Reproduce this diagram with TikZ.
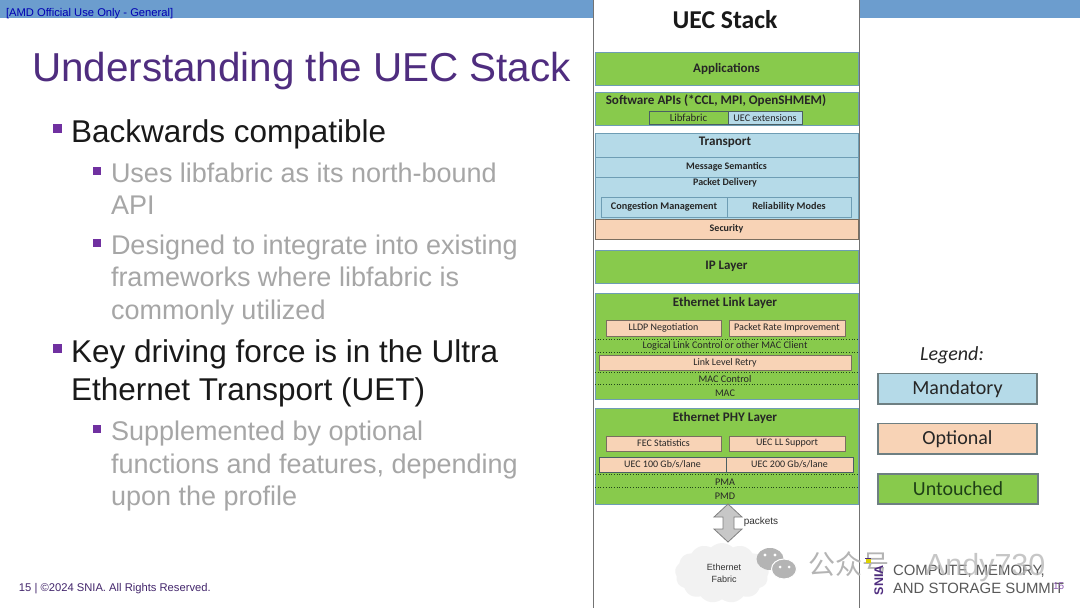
\documentclass[tikz,border=0pt]{standalone}
\usepackage{fontspec}
\setmainfont{Liberation Sans}
\newfontfamily\calib{Carlito}
\newfontfamily\cjkf{Noto Sans CJK SC}
\usetikzlibrary{shapes.geometric,shapes.symbols,shapes.arrows}
\definecolor{band}{HTML}{6C9DCE}
\definecolor{ttl}{HTML}{4F2D7F}
\definecolor{bul}{HTML}{7030A0}
\definecolor{subg}{HTML}{A6A6A6}
\definecolor{grn}{HTML}{88CA4C}
\definecolor{blu}{HTML}{B5DAE8}
\definecolor{pch}{HTML}{F8D3B6}
\definecolor{bdb}{HTML}{6E9DB4}
\definecolor{bdk}{HTML}{4A5F63}
\definecolor{bdp}{HTML}{7A6E60}
\definecolor{dgn}{HTML}{2B5A20}
\definecolor{wm}{HTML}{B4B4B4}
\tikzset{
  x=1pt,y=-1pt,
  layer/.style={draw=bdb,line width=1pt,inner sep=0pt,outer sep=0pt,anchor=north west,text=black!85,font=\calib\bfseries\fontsize{11}{11}\selectfont},
  g/.style={layer,fill=grn},
  b/.style={layer,fill=blu},
  p/.style={layer,fill=pch,draw=bdp},
  gk/.style={g,draw=bdk},
  bk/.style={b,draw=bdk},
  pk/.style={p,draw=bdk},
  lab/.style={inner sep=0pt,outer sep=0pt,anchor=center,yshift=-.8pt,text=black!85,font=\calib\bfseries\fontsize{10}{10}\selectfont},
  big/.style={lab,font=\calib\bfseries\fontsize{13.1}{13.1}\selectfont},
  dots/.style={dotted,line width=.7pt,draw=dgn!80!black},
  tx/.style={inner sep=0pt,outer sep=0pt,anchor=base west},
  h1/.style={tx,text=black!90,font=\fontsize{31.5}{31.5}\selectfont},
  h2/.style={tx,text=subg,font=\fontsize{27}{27}\selectfont},
  sq/.style={fill=bul,draw=none},
  lg/.style={layer,draw=bdk!80,line width=1.2pt,font=\calib\fontsize{20}{20}\selectfont},
}
\newcommand\bx[7]{\node[#2,minimum width={(#5-#3)*1pt},minimum height={(#6-#4)*1pt}] (#1) at (#3,#4) {\raisebox{-.8pt}{#7}};}
\begin{document}
\begin{tikzpicture}
\useasboundingbox (0,0) rectangle (1080,608);
\fill[white] (0,0) rectangle (1080,608);
\fill[band] (0,0) rectangle (1080,18);
\node[tx,text=blue!70!black,font=\fontsize{11.2}{11.2}\selectfont] (amd) at (6,16) {[AMD Official Use Only - General]};
\node[tx,text=ttl,font=\fontsize{40.4}{40.4}\selectfont] (title) at (32,81) {Understanding the UEC Stack};
% left bullets
\fill[sq] (53,124) rectangle +(9,9);
\node[h1] (t1) at (71,142) {Backwards compatible};
\fill[sq] (93,167) rectangle +(8,8);
\node[h2] (t2) at (111,182) {Uses libfabric as its north-bound};
\node[h2] (t3) at (111,214) {API};
\fill[sq] (93,239) rectangle +(8,8);
\node[h2] (t4) at (111,254) {Designed to integrate into existing};
\node[h2] (t5) at (111,286) {frameworks where libfabric is};
\node[h2] (t6) at (111,319) {commonly utilized};
\fill[sq] (53,344) rectangle +(9,9);
\node[h1] (t7) at (71,362) {Key driving force is in the Ultra};
\node[h1] (t8) at (71,400) {Ethernet Transport (UET)};
\fill[sq] (93,425) rectangle +(8,8);
\node[h2] (t9) at (111,440) {Supplemented by optional};
\node[h2] (t10) at (111,473) {functions and features, depending};
\node[h2] (t11) at (111,505) {upon the profile};
\node[tx,text=ttl!85!black,font=\fontsize{11.2}{11.2}\selectfont] (foot) at (19,591) {15 | ©2024 SNIA. All Rights Reserved.};
% panel
\node[draw=black!55,fill=white,line width=1.2pt,inner sep=0pt,anchor=north west,minimum width=266pt,minimum height=612pt] (panel) at (593,-2) {};
\node[anchor=center,inner sep=0pt,text=black!90,font=\calib\bfseries\fontsize{25.7}{25.7}\selectfont] (stack) at (725,20) {UEC Stack};
% layers
\bx{apps}{g}{595}{52}{858}{85}{\fontsize{13}{13}\selectfont Applications}
\bx{api}{g}{595}{92}{858}{125}{}
\node[big] (apit) at (716,99.5) {Software APIs (*CCL, MPI, OpenSHMEM)};
\bx{libf}{gk}{649}{111}{728}{124.5}{\fontsize{10.8}{10.8}\selectfont\mdseries Libfabric}
\bx{uecx}{bk}{728}{111}{802}{124.5}{\fontsize{10.2}{10.2}\selectfont\mdseries UEC extensions}
\bx{trans}{b}{595}{133}{858}{157}{}
\node[big] (transt) at (725,141) {Transport};
\bx{msg}{b}{595}{157}{858}{177}{\fontsize{10}{10}\selectfont Message Semantics}
\bx{pkt}{b}{595}{177}{858}{219}{}
\node[lab] (pktt) at (725,182) {Packet Delivery};
\bx{cong}{b}{601}{197}{727}{217}{\fontsize{10.2}{10.2}\selectfont Congestion Management}
\bx{rel}{b}{727}{197}{851}{217}{\fontsize{10.2}{10.2}\selectfont Reliability Modes}
\bx{sec}{p}{595}{219}{858}{239}{\fontsize{10}{10}\selectfont Security}
\bx{ip}{g}{595}{250}{858}{283}{\fontsize{13}{13}\selectfont IP Layer}
% link layer
\bx{link}{g}{595}{293}{858}{399}{}
\node[big] (linkt) at (725,302) {Ethernet Link Layer};
\bx{lldp}{p}{606}{320}{721}{336}{\fontsize{10}{10}\selectfont\mdseries LLDP Negotiation}
\bx{rate}{p}{729}{320}{845}{336}{\fontsize{10.1}{10.1}\selectfont\mdseries Packet Rate Improvement}
\draw[dots] (link.west |- 0,339) -- (link.east |- 0,339);
\node[lab,font=\calib\fontsize{10.2}{10.2}\selectfont] (llc) at (725,345) {Logical Link Control or other MAC Client};
\draw[dots] (link.west |- 0,352) -- (link.east |- 0,352);
\bx{llr}{p}{599}{355}{851}{370}{\fontsize{10}{10}\selectfont\mdseries Link Level Retry}
\draw[dots] (link.west |- 0,372) -- (link.east |- 0,372);
\node[lab,font=\calib\fontsize{10.2}{10.2}\selectfont] (macc) at (725,378) {MAC Control};
\draw[dots] (link.west |- 0,384) -- (link.east |- 0,384);
\node[lab,font=\calib\fontsize{10.2}{10.2}\selectfont] (mac) at (725,392) {MAC};
% phy layer
\bx{phy}{g}{595}{408}{858}{504}{}
\node[big] (phyt) at (725,417) {Ethernet PHY Layer};
\bx{fec}{p}{606}{436}{721}{451}{\fontsize{10}{10}\selectfont\mdseries FEC Statistics}
\bx{ll}{p}{729}{436}{845}{451}{\fontsize{10}{10}\selectfont\mdseries UEC LL Support}
\bx{g100}{pk}{599}{457}{726}{472}{\fontsize{10}{10}\selectfont\mdseries UEC 100 Gb/s/lane}
\bx{g200}{pk}{726}{457}{853}{472}{\fontsize{10}{10}\selectfont\mdseries UEC 200 Gb/s/lane}
\draw[dots] (phy.west |- 0,474) -- (phy.east |- 0,474);
\node[lab,font=\calib\fontsize{10.2}{10.2}\selectfont] (pma) at (725,481) {PMA};
\draw[dots] (phy.west |- 0,487) -- (phy.east |- 0,487);
\node[lab,font=\calib\fontsize{10.2}{10.2}\selectfont] (pmd) at (725,495) {PMD};
% arrow and cloud
\draw[draw=black!50,fill=black!22,line width=.8pt] (728,504) -- (742,517) -- (734,517) -- (734,529) -- (742,529) -- (728,542) -- (714,529) -- (723,529) -- (723,517) -- (714,517) -- cycle;
\node[inner sep=0pt,text=black!80,font=\fontsize{10}{10}\selectfont] (pk) at (761,522) {packets};
\node[cloud,cloud puffs=13,cloud puff arc=90,aspect=1.6,fill=black!5,draw=none,minimum width=94pt,minimum height=60pt,inner sep=0pt] (cloud) at (722,573) {};
\node[inner sep=0pt,align=center,text=black!80,font=\fontsize{9}{12}\selectfont] (fab) at (724,573) {Ethernet\\Fabric};
% legend
\node[inner sep=0pt,text=black!85,font=\calib\itshape\fontsize{20}{20}\selectfont] (leg) at (952,355) {Legend:};
\bx{lm}{lg,fill=blu}{878}{373.5}{1037}{404}{\raisebox{-.8pt}{Mandatory}}
\bx{lo}{lg,fill=pch}{878}{423.5}{1037}{454}{\raisebox{-.8pt}{Optional}}
\bx{lu}{lg,fill=grn}{878}{474}{1038}{504}{\raisebox{-.8pt}{\color{dgn!70!black}Untouched}}
% watermark
\fill[wm] (770,559) ellipse (13.5 and 11);
\fill[white] (765,555) circle (1.6) (775,555) circle (1.6);
\draw[white,fill=wm,line width=1pt] (784,569) ellipse (12.5 and 10);
\fill[white] (780,567) circle (1.5) (789,567) circle (1.5);
\node[tx,text=wm,font=\cjkf\fontsize{27}{27}\selectfont] (wm1) at (808,574) {公众号};
% logo
\fill[yellow!70!olive] (866,559) rectangle (871,563);
\draw[ttl,line width=1pt] (865,558) -- (871,558);
\node[tx,rotate=90,text=ttl,font=\bfseries\fontsize{12.5}{12.5}\selectfont] (snia) at (883,595) {SNIA};
\node[tx,text=black!65,font=\fontsize{14.9}{14.9}\selectfont] (l1) at (893,575) {COMPUTE, MEMORY,};
\node[tx,text=black!65,font=\fontsize{14.9}{14.9}\selectfont] (l2) at (893,593) {AND STORAGE SUMMIT};
\node[tx,text=wm,opacity=.75,font=\fontsize{30.5}{30.5}\selectfont] (wm2) at (925,575) {Andy730};
\node[tx,text=bul!80,font=\fontsize{10}{10}\selectfont] (pn) at (1053,589) {15};
\end{tikzpicture}
\end{document}
